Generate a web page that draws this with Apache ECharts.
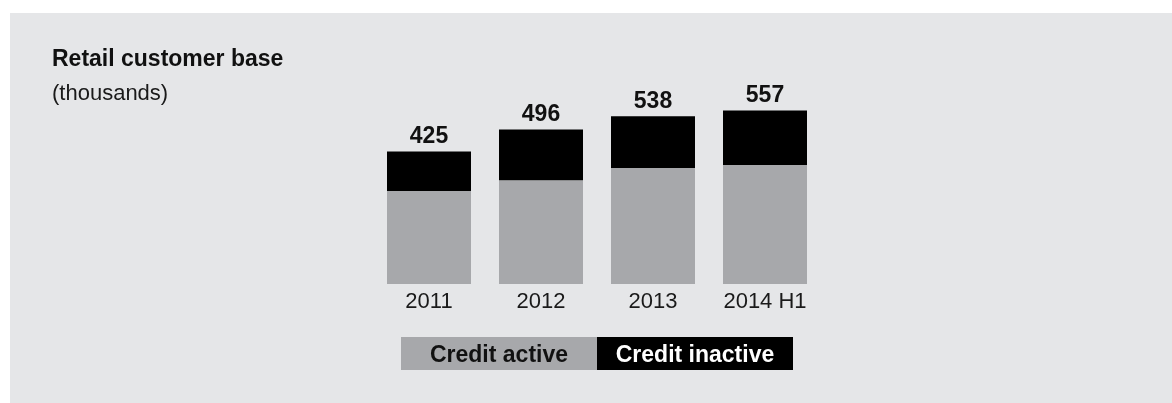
<!DOCTYPE html>
<html>
<head>
<meta charset="utf-8">
<script src="https://cdn.jsdelivr.net/npm/echarts@6/dist/echarts.min.js"></script>
<style>
  html, body { margin: 0; padding: 0; background: #ffffff; }
  #chart { width: 1172px; height: 403px; }
</style>
</head>
<body>
<div id="chart"></div>
<script>
// Retail customer base, thousands
const categories = ['2011', '2012', '2013', '2014 H1'];
const creditActive = [298, 333, 372, 382];
const creditInactive = [127, 163, 166, 175];
const totals = [425, 496, 538, 557];
const seriesNames = ['Credit active', 'Credit inactive'];

const FONT = '"Liberation Sans", Arial, Helvetica, sans-serif';
const GREY = '#a7a8ab';
const BLACK = '#000000';
const PANEL = '#e5e6e8';

const chart = echarts.init(document.getElementById('chart'), null, { renderer: 'canvas' });

chart.setOption({
  animation: false,
  backgroundColor: '#ffffff',
  textStyle: { fontFamily: FONT },
  title: {
    left: 52,
    top: 48,
    text: 'Retail customer base',
    subtext: '(thousands)',
    itemGap: 12,
    padding: 0,
    textStyle: { fontFamily: FONT, fontSize: 23, fontWeight: 'bold', color: '#111111' },
    subtextStyle: { fontFamily: FONT, fontSize: 22, fontWeight: 'normal', color: '#1a1a1a' }
  },
  grid: { left: 373, width: 448, top: 97, bottom: 119, containLabel: false },
  xAxis: {
    type: 'category',
    data: categories,
    axisLine: { show: false },
    axisTick: { show: false },
    axisLabel: { fontFamily: FONT, fontSize: 22, color: '#1a1a1a', margin: 7 }
  },
  yAxis: {
    type: 'value',
    min: 0,
    max: 600,
    show: false,
    splitLine: { show: false }
  },
  series: [
    {
      name: seriesNames[0],
      type: 'bar',
      stack: 'base',
      barWidth: 84,
      itemStyle: { color: GREY },
      data: creditActive
    },
    {
      name: seriesNames[1],
      type: 'bar',
      stack: 'base',
      barWidth: 84,
      itemStyle: { color: BLACK },
      data: creditInactive,
      label: {
        show: true,
        position: 'top',
        distance: 3,
        fontFamily: FONT,
        fontSize: 23,
        fontWeight: 'bold',
        color: '#111111',
        formatter: (p) => String(totals[p.dataIndex])
      }
    }
  ],
  graphic: [
    // panel background
    { type: 'rect', z: -10, silent: true,
      shape: { x: 10, y: 13, width: 1162, height: 390 },
      style: { fill: PANEL } },
    // key boxes
    { type: 'rect', silent: true,
      shape: { x: 401, y: 337, width: 196, height: 33 },
      style: { fill: GREY } },
    { type: 'text', silent: true, x: 499, y: 356,
      style: { text: seriesNames[0], fill: '#111111', font: 'bold 23px ' + FONT,
               textAlign: 'center', textVerticalAlign: 'middle' } },
    { type: 'rect', silent: true,
      shape: { x: 597, y: 337, width: 196, height: 33 },
      style: { fill: BLACK } },
    { type: 'text', silent: true, x: 695, y: 356,
      style: { text: seriesNames[1], fill: '#ffffff', font: 'bold 23px ' + FONT,
               textAlign: 'center', textVerticalAlign: 'middle' } }
  ]
});
</script>
</body>
</html>
